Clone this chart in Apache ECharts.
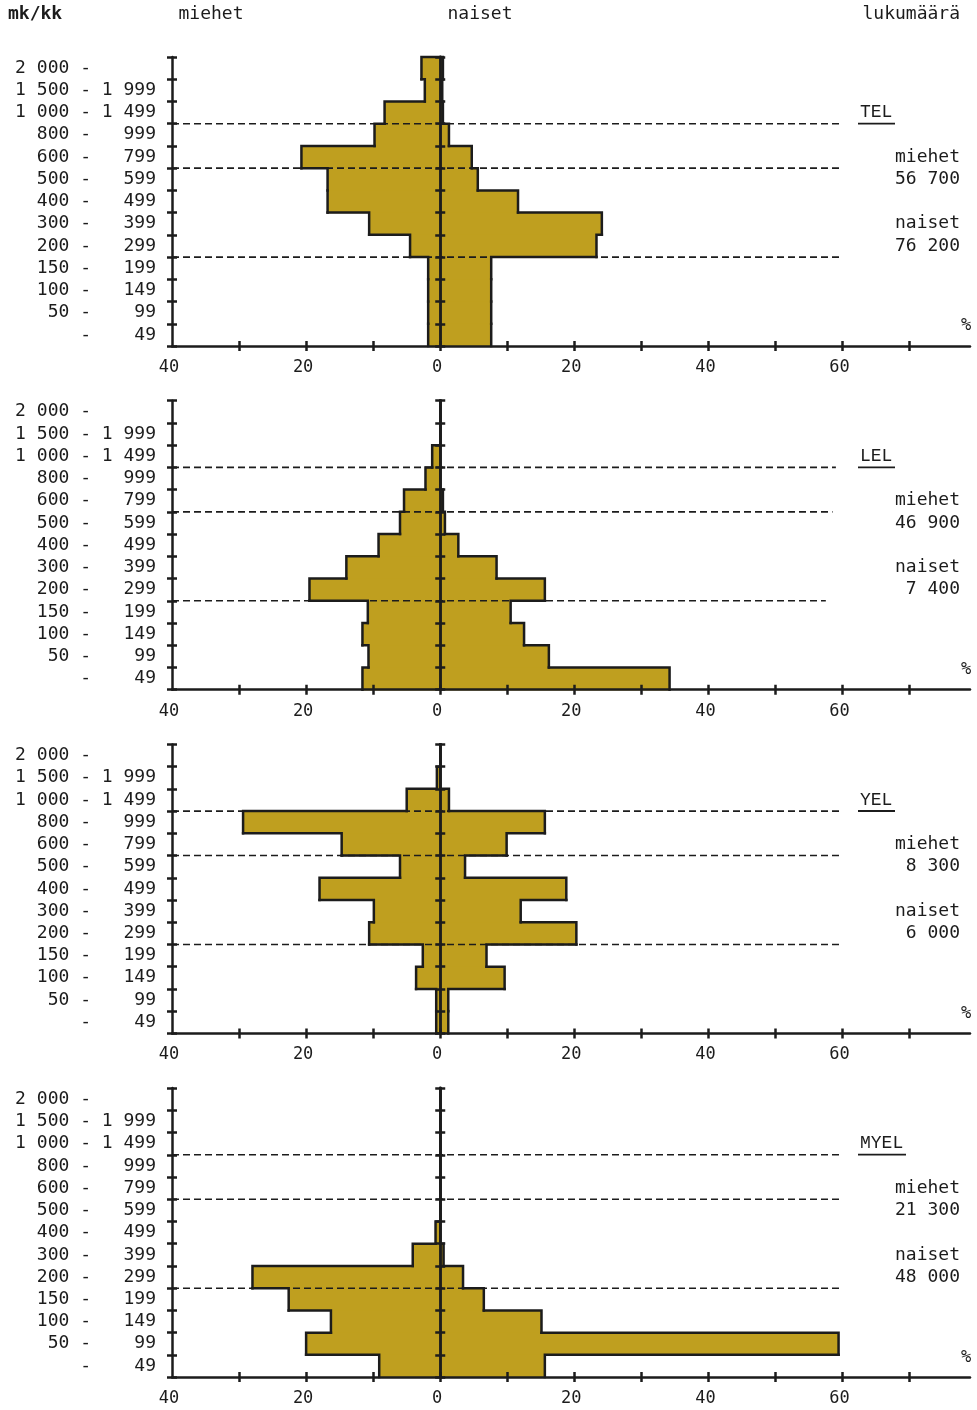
<!DOCTYPE html>
<html>
<head>
<meta charset="utf-8">
<script src="https://cdn.jsdelivr.net/npm/echarts@6/dist/echarts.min.js"></script>
<style>
html,body{margin:0;padding:0;background:#ffffff;}
#c{width:977px;height:1410px;}
</style>
</head>
<body>
<div id="c"></div>
<script>
// ---------- data ----------
const incomeLower = ['2 000','1 500','1 000','800','600','500','400','300','200','150','100','50',''];
const incomeUpper = ['','1 999','1 499','999','799','599','499','399','299','199','149','99','49'];
const panelNames  = ['TEL','LEL','YEL','MYEL'];
const menCounts   = ['56 700','46 900','8 300','21 300'];
const womenCounts = ['76 200','7 400','6 000','48 000'];
// shares (%) by income class, top row first
const telMen    = [2.8,2.3,8.3,9.8,20.7,16.8,16.8,10.6,4.5,1.8,1.8,1.8,1.8];
const telWomen  = [0.4,0.3,0.4,1.3,4.7,5.6,11.6,24.1,23.3,7.6,7.6,7.6,7.6];
const lelMen    = [0,0,1.2,2.2,5.4,6.0,9.2,14.0,19.5,10.8,11.6,10.7,11.6];
const lelWomen  = [0,0,0,0,0.4,0.7,2.7,8.4,15.6,10.5,12.5,16.2,34.2];
const yelMen    = [0,0.5,5.0,29.4,14.7,6.0,18.0,9.9,10.6,2.6,3.6,0.6,0.6];
const yelWomen  = [0,0,1.3,15.6,9.9,3.7,18.8,12.0,20.3,6.9,9.6,1.2,1.2];
const myelMen   = [0,0,0,0,0,0,0.7,4.1,28.0,22.6,16.3,20.0,9.1];
const myelWomen = [0,0,0,0,0,0,0,0.5,3.4,6.5,15.1,59.4,15.6];
const xTickValues  = [-30,-20,-10,0,10,20,30,40,50,60,70];
const xLabelValues = [-40,-20,0,20,40,60];
const dashedBoundaries = [3,5,9];           // top edge of these rows: 1 000, 600, 200 mk
const dashedEnds = [[60,60,60],[59,58.5,57.5],[59.5,60,59.5],[60,60,60]];

// ---------- style / layout ----------
const FONT = 'DejaVu Sans Mono';
const INK = '#1c1c1c';
const FILL = '#BF9F1F';
const GRID_LEFT = 172, GRID_RIGHT = 7, GRID_H = 289, GRID_TOP0 = 57, GRID_STEP = 343.7;
const X_MIN = -40, X_MAX = 79;

const menData   = [telMen, lelMen, yelMen, myelMen];
const womenData = [telWomen, lelWomen, yelWomen, myelWomen];
const categoryLabels = incomeLower.map((lo, i) => lo.padStart(5, ' ') + ' - ' + incomeUpper[i].padStart(5, ' '));

function fillRender(params, api) {
  const i = params.dataIndex;
  const h = api.size([0, 1])[1];
  const a = api.coord([api.value(0), i]);
  const b = api.coord([api.value(1), i]);
  return { type: 'rect', shape: { x: a[0], y: a[1] - h / 2, width: b[0] - a[0], height: h + 0.7 },
           style: { fill: FILL } };
}
function outlineRender(params, api) {
  const i = params.dataIndex;
  const h = api.size([0, 1])[1];
  const c = api.coord([0, i]);
  const top = c[1] - h / 2, bot = c[1] + h / 2;
  const pm = i > 0 ? api.value(0, i - 1) : 0;
  const pw = i > 0 ? api.value(1, i - 1) : 0;
  const xm = api.coord([api.value(0), i])[0], xpm = api.coord([pm, i])[0];
  const xw = api.coord([api.value(1), i])[0], xpw = api.coord([pw, i])[0];
  const st = { stroke: INK, lineWidth: 2.5, fill: null, lineCap: 'square', lineJoin: 'miter' };
  return { type: 'group', children: [
    { type: 'polyline', shape: { points: [[xpm, top], [xm, top], [xm, bot]] }, style: st },
    { type: 'polyline', shape: { points: [[xpw, top], [xw, top], [xw, bot]] }, style: st }
  ] };
}
function dashRender(params, api) {
  const h = api.size([0, 1])[1];
  const row = api.value(2);
  const a = api.coord([api.value(0), row]);
  const b = api.coord([api.value(1), row]);
  const y = a[1] - h / 2;
  return { type: 'line', shape: { x1: a[0], y1: y, x2: b[0], y2: y },
           style: { stroke: INK, lineWidth: 1.6, lineDash: [7, 4] } };
}

const grids = [], xAxes = [], yAxes = [], series = [], graphics = [];
const axisLineStyle = { color: INK, width: 2.5 };

panelNames.forEach((name, k) => {
  const top = GRID_TOP0 + k * GRID_STEP;
  const rowH = GRID_H / 13;
  grids.push({ left: GRID_LEFT, right: GRID_RIGHT, top: top, height: GRID_H });

  const xBase = { type: 'value', gridIndex: k, min: X_MIN, max: X_MAX, position: 'bottom', z: 10,
                  splitLine: { show: false } };
  xAxes.push(Object.assign({}, xBase, {
    axisLine: { show: true, onZero: false, lineStyle: axisLineStyle },
    axisTick: { show: true, customValues: xTickValues, length: 5, inside: false, lineStyle: axisLineStyle },
    axisLabel: { show: true, customValues: xLabelValues, formatter: v => String(Math.abs(v)),
                 fontFamily: FONT, fontSize: 17, color: INK, margin: 13, padding: [0, 6, 0, 0] }
  }));
  xAxes.push(Object.assign({}, xBase, {
    axisLine: { show: false, onZero: false },
    axisTick: { show: true, customValues: xTickValues, length: 5, inside: true, lineStyle: axisLineStyle },
    axisLabel: { show: false }
  }));

  const yBase = { type: 'category', gridIndex: k, data: categoryLabels, inverse: true, boundaryGap: true,
                  position: 'left', z: 10, splitLine: { show: false } };
  yAxes.push(Object.assign({}, yBase, {
    axisLine: { show: true, onZero: false, lineStyle: axisLineStyle },
    axisTick: { show: true, interval: 0, length: 5, inside: false, lineStyle: axisLineStyle },
    axisLabel: { show: true, interval: 0, fontFamily: FONT, fontSize: 18, color: INK, margin: 16 }
  }));
  yAxes.push(Object.assign({}, yBase, {
    axisLine: { show: false, onZero: false },
    axisTick: { show: true, interval: 0, length: 5, inside: true, lineStyle: axisLineStyle },
    axisLabel: { show: false }
  }));
  yAxes.push(Object.assign({}, yBase, {
    axisLine: { show: true, onZero: true, onZeroAxisIndex: 2 * k, lineStyle: axisLineStyle },
    axisTick: { show: true, interval: 0, length: 5, inside: false, lineStyle: axisLineStyle },
    axisLabel: { show: false }
  }));
  yAxes.push(Object.assign({}, yBase, {
    axisLine: { show: true, onZero: true, onZeroAxisIndex: 2 * k, lineStyle: axisLineStyle },
    axisTick: { show: true, interval: 0, length: 5, inside: true, lineStyle: axisLineStyle },
    axisLabel: { show: false }
  }));

  const rows = menData[k].map((m, i) => [-m, womenData[k][i], i]);
  series.push({ type: 'custom', name: name + ' fill', xAxisIndex: 2 * k, yAxisIndex: 4 * k, z: 2,
                renderItem: fillRender, encode: { x: [0, 1], y: 2 }, data: rows, silent: true });
  series.push({ type: 'custom', name: name + ' outline', xAxisIndex: 2 * k, yAxisIndex: 4 * k, z: 3,
                renderItem: outlineRender, encode: { x: [0, 1], y: 2 }, data: rows, silent: true });
  series.push({ type: 'custom', name: name + ' dashed', xAxisIndex: 2 * k, yAxisIndex: 4 * k, z: 4,
                renderItem: dashRender, encode: { x: [0, 1], y: 2 },
                data: dashedBoundaries.map((b, j) => [X_MIN, dashedEnds[k][j], b]), silent: true });

  // right-hand annotations
  const txt = (text, x, y, align, extra) => Object.assign({
    type: 'text', x: x, y: y, z: 20,
    style: Object.assign({ text: text, fill: INK, font: '18px "' + FONT + '"',
      align: align, textAlign: align, verticalAlign: 'middle', textVerticalAlign: 'middle' }, extra || {})
  });
  graphics.push(txt(name, 860, top + 2.5 * rowH, 'left', { font: '18px "Liberation Mono"' }));
  graphics.push({ type: 'line', z: 20, shape: { x1: 858, y1: top + 2.5 * rowH + 11, x2: 858 + name.length * 11 + 4, y2: top + 2.5 * rowH + 11 },
                  style: { stroke: INK, lineWidth: 1.8 } });
  graphics.push(txt('miehet', 960, top + 4.5 * rowH, 'right'));
  graphics.push(txt(menCounts[k], 960, top + 5.5 * rowH, 'right'));
  graphics.push(txt('naiset', 960, top + 7.5 * rowH, 'right'));
  graphics.push(txt(womenCounts[k], 960, top + 8.5 * rowH, 'right'));
  graphics.push(txt('%', 966, top + 12.1 * rowH, 'center', { font: '17px "' + FONT + '"' }));
});

// header
const head = (text, x, align, bold) => ({
  type: 'text', x: x, y: 14, z: 20,
  style: { text: text, fill: INK, font: (bold ? 'bold ' : '') + '18px "' + FONT + '"',
           align: align, textAlign: align, verticalAlign: 'middle', textVerticalAlign: 'middle' }
});
graphics.push(head('mk/kk', 8, 'left', true));
graphics.push(head('miehet', 211, 'center', false));
graphics.push(head('naiset', 480, 'center', false));
graphics.push(head('lukumäärä', 960, 'right', false));

const chart = echarts.init(document.getElementById('c'), null, { renderer: 'canvas' });
chart.setOption({
  animation: false,
  backgroundColor: '#ffffff',
  grid: grids,
  xAxis: xAxes,
  yAxis: yAxes,
  series: series,
  graphic: graphics
});
</script>
</body>
</html>
